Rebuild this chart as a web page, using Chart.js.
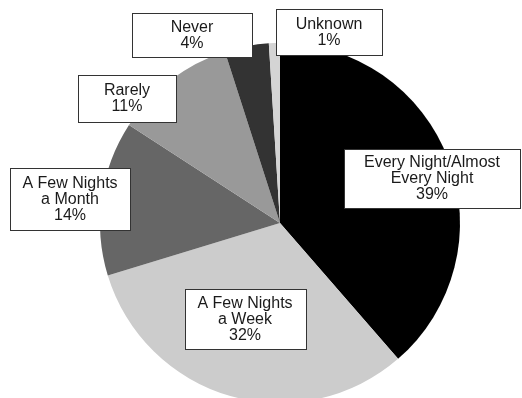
<!DOCTYPE html>
<html>
<head>
<meta charset="utf-8">
<script src="https://cdn.jsdelivr.net/npm/chart.js@4.4.0/dist/chart.umd.min.js"></script>
<style>
    html, body { margin: 0; padding: 0; background: white; overflow: hidden; }
    #wrap { width: 522px; height: 450px; position: relative; }
</style>
</head>
<body>
<div id="wrap"><canvas id="sleepChart"></canvas></div>
<script>
const categories = ["Every Night/Almost Every Night", "A Few Nights a Week", "A Few Nights a Month", "Rarely", "Never", "Unknown"];
const labelLines = [
    ["Every Night/Almost", "Every Night"],
    ["A Few Nights", "a Week"],
    ["A Few Nights", "a Month"],
    ["Rarely"],
    ["Never"],
    ["Unknown"]
];
const percents = [39, 32, 14, 11, 4, 1];
const sliceColors = ["#000000", "#cccccc", "#666666", "#999999", "#333333", "#d4d4d4"];

// label box centre + size, in canvas pixels
const boxes = [
    {x: 432, y: 178, w: 176, h: 59},
    {x: 245, y: 319, w: 121, h: 60},
    {x: 70, y: 199, w: 120, h: 62},
    {x: 127, y: 98, w: 98, h: 47},
    {x: 192, y: 35, w: 120, h: 44},
    {x: 329, y: 32, w: 106, h: 46}
];

const boxLabels = {
    id: "boxLabels",
    afterDatasetsDraw(chart) {
        const ctx = chart.ctx;
        ctx.save();
        ctx.font = "16px 'Liberation Sans', Arial, sans-serif";
        ctx.textAlign = "center";
        ctx.textBaseline = "middle";
        chart.data.datasets[0].data.forEach((v, i) => {
            const b = boxes[i];
            const lines = labelLines[i].concat([v + "%"]);
            const left = Math.round(b.x - b.w / 2) + 0.5, top = Math.round(b.y - b.h / 2) + 0.5;
            ctx.fillStyle = "white";
            ctx.fillRect(left, top, b.w, b.h);
            ctx.strokeStyle = "#333";
            ctx.lineWidth = 1;
            ctx.strokeRect(left, top, b.w, b.h);
            ctx.fillStyle = "#1a1a1a";
            const lh = 16;
            const startY = b.y + 1 - (lines.length - 1) * lh / 2;
            lines.forEach((t, j) => ctx.fillText(t, b.x, startY + j * lh));
        });
        ctx.restore();
    }
};

new Chart("sleepChart", {
    type: "pie",
    data: {
        labels: categories,
        datasets: [{
            data: percents,
            backgroundColor: sliceColors,
            borderWidth: 0
        }]
    },
    options: {
        responsive: true,
        maintainAspectRatio: false,
        animation: false,
        layout: {
            padding: {left: 100, right: 62, top: 43, bottom: 47}
        },
        plugins: {
            legend: { display: false },
            tooltip: { enabled: false }
        }
    },
    plugins: [boxLabels]
});
</script>
</body>
</html>
